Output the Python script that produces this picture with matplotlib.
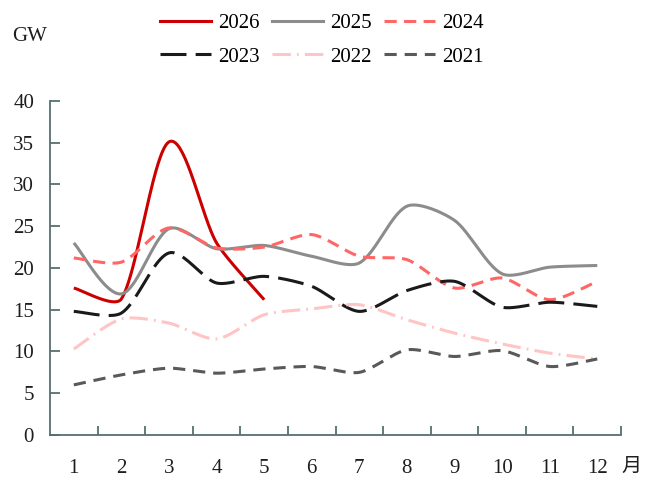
import numpy as np
import matplotlib
matplotlib.use('Agg')
import matplotlib.pyplot as plt
from matplotlib.lines import Line2D

months = list(range(1, 13))
month_labels = [str(m) for m in months]

y2026 = [17.6, 16.3, 35.1, 23.0, 16.2]
y2025 = [23.0, 16.9, 24.7, 22.3, 22.7, 21.4, 20.6, 27.4, 25.7, 19.3, 20.1, 20.3]
y2024 = [21.2, 20.7, 24.8, 22.4, 22.5, 24.0, 21.4, 21.0, 17.6, 18.8, 16.2, 18.4]
y2023 = [14.8, 14.6, 21.8, 18.2, 19.0, 17.8, 14.8, 17.3, 18.4, 15.3, 15.9, 15.4]
y2022 = [10.3, 13.9, 13.4, 11.5, 14.4, 15.1, 15.6, 13.8, 12.2, 10.9, 9.8, 9.1]
y2021 = [6.0, 7.2, 8.0, 7.4, 7.9, 8.2, 7.5, 10.2, 9.4, 10.1, 8.2, 9.1]

series = [
    ('2026', y2026, '#cc0000', None),
    ('2025', y2025, '#8c8c8c', None),
    ('2024', y2024, '#ff6666', (4, 2.4)),
    ('2023', y2023, '#1a1a1a', (8.5, 3)),
    ('2022', y2022, '#ffc4c4', (6, 2, 0.6, 2)),
    ('2021', y2021, '#595959', (4, 2.6)),
]

# pixel size of one data unit, used so the smoothing works in screen space like Excel
SX, SY = 47.4, 8.35


def smooth(x, y, n=40, clip=0.25):
    # Excel-like smoothed line: Bezier segments, control arms 1/6 of the chord,
    # clipped to a fraction of the segment length
    p = np.column_stack([np.asarray(x, float) * SX, np.asarray(y, float) * SY])
    pp = np.vstack([p[0], p, p[-1]])
    out = []
    for i in range(1, len(pp) - 2):
        p0, p1, p2, p3 = pp[i - 1], pp[i], pp[i + 1], pp[i + 2]
        lim = np.linalg.norm(p2 - p1) * clip
        a = (p2 - p0) / 6
        b = (p3 - p1) / 6
        if np.linalg.norm(a) > lim:
            a = a / np.linalg.norm(a) * lim
        if np.linalg.norm(b) > lim:
            b = b / np.linalg.norm(b) * lim
        c1, c2 = p1 + a, p2 - b
        t = np.linspace(0, 1, n)[:, None]
        seg = (1 - t) ** 3 * p1 + 3 * (1 - t) ** 2 * t * c1 + 3 * (1 - t) * t ** 2 * c2 + t ** 3 * p2
        out.append(seg)
    out = np.vstack(out)
    return out[:, 0] / SX, out[:, 1] / SY


plt.rcParams['font.family'] = ['Liberation Serif', 'Noto Sans CJK SC']
axis_color = '#567070'
text_color = '#1e1e1e'

fig = plt.figure(figsize=(6.53, 4.79), dpi=100)
fig.patch.set_facecolor('white')
ax = fig.add_axes([0.0766, 0.0919, 0.8745, 0.6973])

handles = {}
for name, vals, color, dash in series:
    sx, sy = smooth(months[:len(vals)], vals)
    line, = ax.plot(sx, sy, color=color, linewidth=2.2, solid_capstyle='butt',
                    dash_capstyle='butt')
    if dash is not None:
        line.set_dashes(dash)
    h = Line2D([], [], color=color, linewidth=2.2, dash_capstyle='butt')
    if dash is not None:
        h.set_dashes(dash)
    handles[name] = h

ax.set_xlim(0.5, 12.5)
ax.set_ylim(0, 40)
ax.set_yticks(range(0, 41, 5))
ax.set_xticks(months)
ax.set_xticklabels(month_labels)
ax.set_xticks(np.arange(1.5, 12.6, 1), minor=True)

for s in ['top', 'right']:
    ax.spines[s].set_visible(False)
for s in ['left', 'bottom']:
    ax.spines[s].set_color(axis_color)
    ax.spines[s].set_linewidth(1.3)

ax.tick_params(axis='y', direction='in', length=7, width=1.3, color=axis_color,
               labelsize=15, pad=11.5, labelcolor=text_color)
ax.tick_params(axis='x', which='major', length=0, labelsize=15, pad=17, labelcolor=text_color)
ax.tick_params(axis='x', which='minor', direction='in', length=6.5, width=1.3, color=axis_color)

fig.text(0.951, 0.026, '月', fontsize=14.5, ha='left', va='center', color=text_color,
         family=['Noto Sans CJK SC'])
fig.text(0.018, 0.923, 'GW', fontsize=15, ha='left', va='center', color=text_color)

order = ['2026', '2023', '2025', '2022', '2024', '2021']
fig.legend([handles[k] for k in order], order, ncol=3, frameon=False,
           loc='upper left', bbox_to_anchor=(0.229, 0.994), fontsize=15,
           handlelength=2.45, handletextpad=0.34, columnspacing=0.58,
           labelspacing=0.68, borderpad=0)

plt.savefig('out.png', dpi=100, facecolor='white')
plt.close()
